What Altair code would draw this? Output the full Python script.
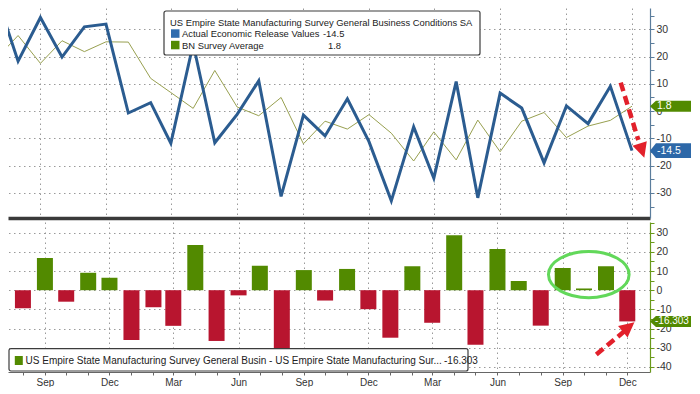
import altair as alt
import pandas as pd

# ---------------- data ----------------
months = [d.strftime("%Y-%m-%d") for d in pd.date_range("2021-07-01", "2023-12-01", freq="MS")]
actual = [43.0, 18.3, 34.3, 19.8, 30.9, 31.9, -0.7, 3.1, -11.8, 24.6, -11.6, -1.2,
          11.1, -31.3, -1.5, -9.1, 4.5, -11.2, -32.9, -5.8, -24.6, 10.8, -31.8, 6.6,
          1.1, -19.0, 1.9, -4.6, 9.1, -14.5]
survey = [19.0, 27.7, 17.5, 25.8, 21.8, 25.4, 25.3, 12.0, 6.8, 1.0, 14.9, 1.5,
          -1.7, 5.0, -12.0, -3.7, -6.6, -1.3, -8.1, -18.3, -7.6, -17.9, -3.3, -14.9,
          -3.7, -0.5, -9.7, -5.5, -3.4, 1.8]
latest_diff = -16.303
title_text = "US Empire State Manufacturing Survey General Business Conditions SA"
series_names = ["Actual Economic Release Values", "BN Survey Average"]
bottom_legend_text = "US Empire State Manufacturing Survey General Busin - US Empire State Manufacturing Sur..."
top_ticks = list(range(-35, 40, 5))
bottom_ticks = list(range(-40, 40, 5))

# ---------------- styles ----------------
W, H1, H2 = 642, 210, 150
FONT = "Liberation Sans"
BLUE = "#2b5c90"
BLUE_SQ = "#2f6cae"
OLIVE = "#98a050"
GREEN = "#528a00"
RED = "#b8152f"
GRID = "#9a9a9a"
ARROW = "#e2202b"
ELLIPSE = "#62d85a"

df = pd.DataFrame({"date": months, "actual": actual, "survey": survey})
one = pd.DataFrame({"a": [0]})


def ms(s):
    return int(pd.Timestamp(s, tz="UTC").timestamp() * 1000)


tick_vals = [ms(m) for m in months]
xscale = alt.Scale(type="utc", domain=[ms("2021-07-18"), ms("2023-12-26")])
grid_q = {"condition": {"test": "utcmonth(datum.value) % 3 != 2", "value": 0}, "value": 1}
grid_10 = {"condition": {"test": "datum.value % 10 != 0", "value": 0}, "value": 1}

x_axis_top = alt.Axis(values=tick_vals, labels=False, ticks=False, domain=True,
                      domainColor="#3a3a3a", domainWidth=3.5, grid=True, gridColor=GRID,
                      gridDash=[1.5, 3.5], gridOpacity=grid_q, title=None)
x_axis_bot = alt.Axis(values=tick_vals,
                      labelExpr="utcmonth(datum.value) % 3 == 2 ? utcFormat(datum.value, '%b') : ''",
                      labelOverlap=False, labelFlush=False, labelFont=FONT, labelFontSize=10,
                      labelColor="#333333", labelPadding=2, tickSize=3, tickColor="#666666",
                      domainColor="#666666", grid=True, gridColor=GRID, gridDash=[1.5, 3.5],
                      gridOpacity=grid_q, title=None)


def yaxis(color, vals):
    return alt.Axis(orient="right", values=vals,
                    labelExpr="datum.value % 10 == 0 ? '' + datum.value : ''",
                    labelOverlap=False, labelFont=FONT, labelFontSize=10.5, labelColor="#333333",
                    labelPadding=2, tickSize=4, tickColor=color, domainColor=color, domainWidth=1.2,
                    grid=True, gridColor=GRID, gridDash=[1.5, 3.5], gridOpacity=grid_10, title=None)


ax_top = yaxis("#5b7d9c", top_ticks)
ax_bot = yaxis("#6a9a1a", bottom_ticks)
ysc_top = alt.Scale(domain=[-39.2, 37.8], nice=False)
ysc_bot = alt.Scale(domain=[-42.7, 35.6], nice=False)


def yt(field):
    return alt.Y(field, type="quantitative", scale=ysc_top, axis=ax_top, title=None)


def yb(field):
    return alt.Y(field, type="quantitative", scale=ysc_bot, axis=ax_bot, title=None)


xt = alt.X("date:T", scale=xscale, axis=x_axis_top, title=None)
xb = alt.X("date:T", scale=xscale, axis=x_axis_bot, title=None)

TAG_THIN = "M -1 0 L -0.71 -0.27 L 1 -0.27 L 1 0.27 L -0.71 0.27 Z"
TAG_TALL = "M -1 0 L -0.71 -0.36 L 1 -0.36 L 1 0.36 L -0.71 0.36 Z"
ARROWHEAD = "M 0 -1 L 0.75 0.5 L -0.75 0.5 Z"
k = 0.5523
ry = 0.572
ELL = (f"M -1 0 C -1 {-ry*k:.4f} {-k} {-ry} 0 {-ry} C {k} {-ry} 1 {-ry*k:.4f} 1 0 "
       f"C 1 {ry*k:.4f} {k} {ry} 0 {ry} C {-k} {ry} -1 {ry*k:.4f} -1 0 Z")


def txt(x, y, s, size=10, color="#222222", align="left"):
    return alt.Chart(one).mark_text(align=align, baseline="middle", font=FONT, fontSize=size,
                                    color=color).encode(x=alt.value(x), y=alt.value(y), text=alt.value(s))


def box(x, x2, y, y2, **kw):
    return alt.Chart(one).mark_rect(**kw).encode(x=alt.value(x), x2=alt.value(x2),
                                                 y=alt.value(y), y2=alt.value(y2))


# ---------------- top panel ----------------
survey_line = alt.Chart(df).mark_line(color=OLIVE, strokeWidth=1, clip=True).encode(x=xt, y=yt("survey"))
actual_line = alt.Chart(df).mark_line(color=BLUE, strokeWidth=3, clip=True).encode(x=xt, y=yt("actual"))

LF = 9.4
leg_box = box(156, 472, 3, 47, fill="white", stroke="#3c3c3c", strokeWidth=1.2, cornerRadius=2)
leg_title = txt(162, 15, title_text, LF)
sq1 = box(163, 171.5, 21.3, 29.8, color=BLUE_SQ)
sq2 = box(163, 171.5, 32.8, 41.3, color=GREEN)
leg1 = txt(174, 26, series_names[0], LF)
leg2 = txt(174, 37.5, series_names[1], LF)
val1 = txt(315, 26, str(actual[-1]), LF)
val2 = txt(320, 37.5, str(survey[-1]), LF)

tag_a = pd.DataFrame({"v": [actual[-1]], "t": [str(actual[-1])]})
tag_s = pd.DataFrame({"v": [survey[-1]], "t": [str(survey[-1])]})
tag_a_mark = alt.Chart(tag_a).mark_point(shape=TAG_TALL, size=1681, filled=True, color="#2d68a8",
                                         opacity=1, strokeWidth=0).encode(x=alt.value(W + 20.5), y=yt("v"))
tag_a_text = alt.Chart(tag_a).mark_text(align="left", baseline="middle", font=FONT, fontSize=10.5,
                                        color="white").encode(x=alt.value(W + 7), y=yt("v"), text="t:N")
tag_s_mark = alt.Chart(tag_s).mark_point(shape=TAG_THIN, size=1681, filled=True, color=GREEN,
                                         opacity=1, strokeWidth=0).encode(x=alt.value(W + 20.5), y=yt("v"))
tag_s_text = alt.Chart(tag_s).mark_text(align="left", baseline="middle", font=FONT, fontSize=10.5,
                                        color="white").encode(x=alt.value(W + 7), y=yt("v"), text="t:N")

arrow1 = alt.Chart(one).mark_rule(color=ARROW, strokeWidth=4.5, strokeDash=[9, 5]).encode(
    x=alt.value(612.7), y=alt.value(74.6), x2=alt.value(630.3), y2=alt.value(132))
head1 = alt.Chart(one).mark_point(shape=ARROWHEAD, size=400, filled=True, color=ARROW, opacity=1,
                                  angle=162).encode(x=alt.value(633.2), y=alt.value(140.2))

top = alt.layer(survey_line, actual_line, leg_box, leg_title, sq1, sq2, leg1, leg2, val1, val2,
                tag_s_mark, tag_s_text, tag_a_mark, tag_a_text, arrow1, head1).properties(width=W, height=H1)

# ---------------- bottom panel ----------------
bars = alt.Chart(df.iloc[1:]).transform_calculate(diff="datum.actual - datum.survey").mark_bar(
    size=16, clip=True).encode(x=xb, y=yb("diff"),
                               color=alt.condition("datum.diff > 0", alt.value(GREEN), alt.value(RED)))

bleg_box = box(1, 460, 126.6, 149, fill="white", stroke="#3c3c3c", strokeWidth=1.2, cornerRadius=2)
bsq = box(6.8, 14.8, 134, 143, color=GREEN)
bleg = txt(17.6, 139, bottom_legend_text)
bval = txt(436, 139, str(latest_diff))

tag_d = pd.DataFrame({"v": [latest_diff], "t": [str(latest_diff)]})
tag_d_mark = alt.Chart(tag_d).mark_point(shape=TAG_THIN, size=1681, filled=True, color=GREEN,
                                         opacity=1, strokeWidth=0).encode(x=alt.value(W + 20.5), y=yb("v"))
tag_d_text = alt.Chart(tag_d).mark_text(align="left", baseline="middle", font=FONT, fontSize=10,
                                        color="white").encode(x=alt.value(W + 5), y=yb("v"), text="t:N")

ellipse = alt.Chart(one).mark_point(shape=ELL, size=6500, filled=False, color=ELLIPSE, opacity=1,
                                    strokeWidth=3).encode(x=alt.value(580.8), y=alt.value(52.6))
arrow2 = alt.Chart(one).mark_rule(color=ARROW, strokeWidth=4.5, strokeDash=[9, 5]).encode(
    x=alt.value(588.3), y=alt.value(132.5), x2=alt.value(616.6), y2=alt.value(109.1))
head2 = alt.Chart(one).mark_point(shape=ARROWHEAD, size=400, filled=True, color=ARROW, opacity=1,
                                  angle=50.7).encode(x=alt.value(618.7), y=alt.value(106.6))

bottom = alt.layer(bars, bleg_box, bsq, bleg, bval, tag_d_mark, tag_d_text, ellipse, arrow2,
                   head2).properties(width=W, height=H2)

chart = alt.vconcat(top, bottom, spacing=0).properties(padding=0, background="white").configure_view(
    strokeWidth=0)

chart.save("out.html", embed_options={"renderer": "svg", "actions": False})
